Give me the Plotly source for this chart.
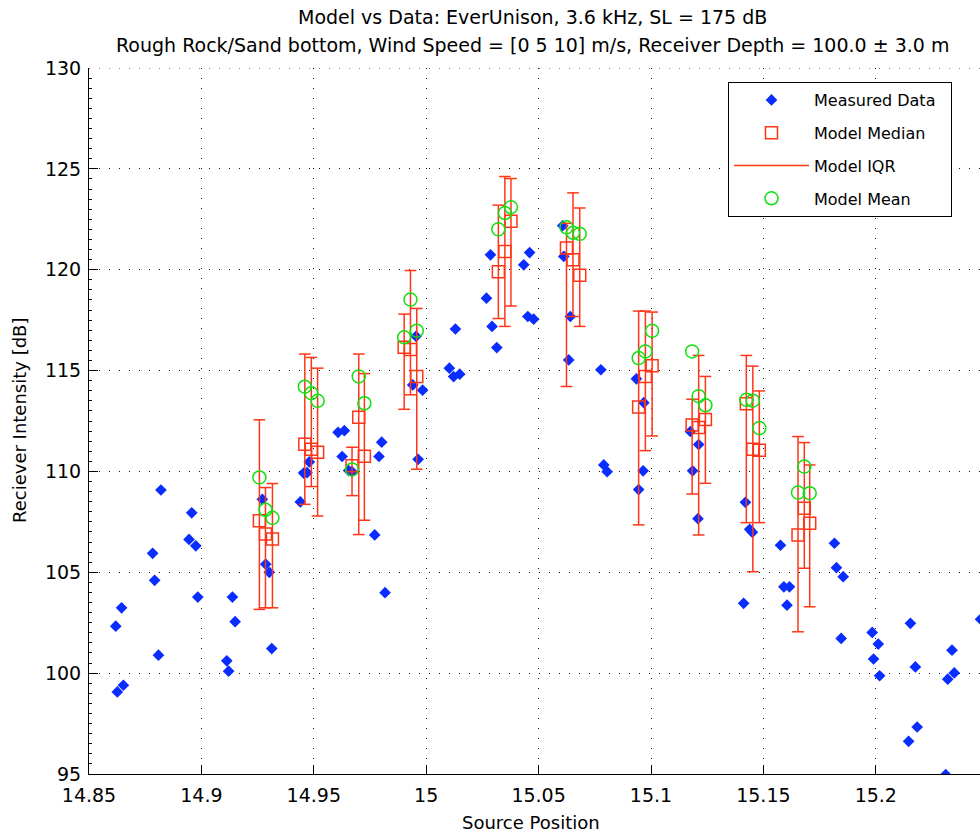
import plotly.graph_objects as go

# ---------------- data ----------------
meas_x = [14.8619, 14.8626, 14.8645, 14.8653, 14.8783, 14.8792, 14.8809, 14.8820,
          14.8945, 14.8957, 14.8975, 14.8984, 14.9113, 14.9121, 14.9138, 14.9150,
          14.9271, 14.9286, 14.9302, 14.9313, 14.9440, 14.9455, 14.9470, 14.9480,
          14.9608, 14.9636, 14.9626, 14.9655, 14.9670, 14.9771, 14.9790, 14.9802,
          14.9817, 14.9940, 14.9955, 14.9964, 14.9984, 15.0103, 15.0122, 15.0130,
          15.0149, 15.0268, 15.0286, 15.0293, 15.0314, 15.0434, 15.0452, 15.0460,
          15.0478, 15.0607, 15.0612, 15.0634, 15.0641, 15.0777, 15.0790, 15.0805,
          15.0935, 15.0945, 15.0965, 15.0968, 15.1175, 15.1185, 15.1209, 15.1212,
          15.1412, 15.1420, 15.1439, 15.1451, 15.1576, 15.1591, 15.1605, 15.1616,
          15.1816, 15.1825, 15.1846, 15.1855, 15.1984, 15.1990, 15.2011, 15.2017,
          15.2146, 15.2154, 15.2176, 15.2184, 15.2311, 15.2320, 15.2339, 15.2349,
          15.2466]
meas_y = [102.33, 99.07, 103.24, 99.40, 105.94, 104.60, 100.89, 109.08,
          106.63, 107.95, 106.31, 103.77, 100.61, 100.10, 103.77, 102.55,
          108.62, 105.40, 105.00, 101.22, 108.49, 109.92, 109.94, 110.47,
          111.94, 112.02, 110.74, 110.04, 109.99, 106.85, 110.74, 111.45,
          103.99, 114.29, 116.70, 110.60, 114.03, 115.12, 114.70, 117.06,
          114.82, 118.59, 120.74, 117.19, 116.14, 120.24, 117.68, 120.85,
          117.55, 122.18, 120.66, 115.53, 117.68, 115.04, 110.32, 109.99,
          114.59, 109.10, 110.03, 113.41, 111.98, 110.03, 107.66, 111.33,
          103.46, 108.47, 107.13, 106.98, 106.34, 104.28, 103.37, 104.28,
          106.44, 105.23, 101.72, 104.78, 102.02, 100.70, 101.44, 99.87,
          96.62, 102.47, 100.31, 97.33, 94.97, 99.70, 101.14, 100.01,
          102.67]

model_x = [14.9258, 14.9285, 14.9316,
           14.9460, 14.9489, 14.9517,
           14.9670, 14.9700, 14.9725,
           14.9902, 14.9930, 14.9958,
           15.0321, 15.0350, 15.0377,
           15.0624, 15.0653, 15.0683,
           15.0945, 15.0975, 15.1005,
           15.1183, 15.1212, 15.1242,
           15.1424, 15.1453, 15.1482,
           15.1654, 15.1682, 15.1706]
model_median = [107.56, 106.90, 106.65,
                111.35, 111.10, 110.95,
                110.28, 112.68, 110.75,
                116.15, 116.05, 114.71,
                119.90, 120.90, 122.40,
                121.08, 120.50, 119.73,
                113.20, 114.70, 115.24,
                112.30, 112.18, 112.58,
                113.35, 111.10, 111.05,
                106.85, 108.17, 107.43]
model_q1 = [103.16, 103.24, 103.24,
            108.37, 109.25, 107.79,
            108.80, 106.87, 107.58,
            113.08, 113.80, 110.11,
            117.58, 117.19, 118.20,
            114.21, 117.68, 117.19,
            107.35, 111.03, 111.76,
            108.88, 106.85, 109.41,
            107.46, 105.03, 107.46,
            102.05, 105.20, 103.29]
model_q3 = [112.56, 109.20, 109.40,
            115.82, 115.65, 115.12,
            111.20, 115.82, 114.85,
            117.80, 119.96, 118.08,
            123.20, 124.62, 124.52,
            122.30, 123.81, 123.06,
            117.95, 117.95, 117.90,
            113.58, 115.75, 114.71,
            115.75, 115.22, 113.99,
            111.73, 111.43, 110.32]
model_mean = [109.70, 108.10, 107.70,
              114.20, 113.88, 113.50,
              110.10, 114.71, 113.38,
              116.65, 118.52, 116.98,
              122.00, 122.81, 123.10,
              122.10, 121.83, 121.78,
              115.62, 115.95, 116.97,
              115.95, 113.73, 113.28,
              113.55, 113.51, 112.15,
              108.95, 110.24, 108.92]

x_tickvals = [14.85, 14.9, 14.95, 15.0, 15.05, 15.1, 15.15, 15.2]
x_ticktext = ["14.85", "14.9", "14.95", "15", "15.05", "15.1", "15.15", "15.2"]
y_tickvals = [95, 100, 105, 110, 115, 120, 125, 130]

title_l1 = "Model vs Data: EverUnison, 3.6 kHz, SL = 175 dB"
title_l2 = "Rough Rock/Sand bottom, Wind Speed = [0 5 10] m/s, Receiver Depth = 100.0 \u00b1 3.0 m"
x_label = "Source Position"
y_label = "Reciever Intensity [dB]"

# ---------------- styling ----------------
BLUE = "#0a2dff"
RED = "#ff3516"
GREEN = "#10e010"
FONT = "DejaVu Sans"
CAP = 0.0026  # half cap width in x units
L, T, B = 89, 68, 59
PW, PH = 980 - L, 833 - T - B

# IQR segments built from the data
iqr_x, iqr_y = [], []
for xv, lo, hi in zip(model_x, model_q1, model_q3):
    iqr_x += [xv, xv, None, xv - CAP, xv + CAP, None, xv - CAP, xv + CAP, None]
    iqr_y += [lo, hi, None, lo, lo, None, hi, hi, None]

pad = "\u00a0" * 2
fig = go.Figure()
fig.add_trace(go.Scatter(
    x=meas_x, y=meas_y, mode="markers", name="Measured Data" + pad,
    legendgroup="a",
    marker=dict(symbol="diamond", size=9, color=BLUE, line=dict(width=0))))
fig.add_trace(go.Scatter(
    x=model_x, y=model_median, mode="markers", name="Model Median" + pad,
    legendgroup="b",
    marker=dict(symbol="square-open", size=12, color=RED, line=dict(width=1.5, color=RED))))
fig.add_trace(go.Scatter(
    x=iqr_x, y=iqr_y, mode="lines", name="Model IQR" + pad, legendgroup="c",
    line=dict(color=RED, width=1.5), connectgaps=False))
fig.add_trace(go.Scatter(
    x=model_x, y=model_mean, mode="markers", name="Model Mean" + pad,
    legendgroup="d",
    marker=dict(symbol="circle-open", size=13, color=GREEN, line=dict(width=1.5, color=GREEN))))

grid = dict(showgrid=True, gridcolor="#111111", gridwidth=1, griddash="1px,9px")

# top dotted grid line at the highest y tick (plotly hides edge grid lines)
fig.add_shape(type="line", xref="paper", yref="y", x0=0, x1=1,
              y0=max(y_tickvals), y1=max(y_tickvals),
              line=dict(color="#111111", width=1, dash="1px,9px"), layer="below")

fig.add_annotation(text=title_l1, xref="paper", yref="paper",
                   x=(532 - L) / PW, y=1 + (T - 17) / PH, xanchor="center", yanchor="middle",
                   showarrow=False, font=dict(family=FONT, size=19, color="black"))
fig.add_annotation(text=title_l2, xref="paper", yref="paper",
                   x=(532 - L) / PW, y=1 + (T - 45) / PH, xanchor="center", yanchor="middle",
                   showarrow=False, font=dict(family=FONT, size=19, color="black"))
fig.add_annotation(text=x_label, xref="paper", yref="paper",
                   x=(531 - L) / PW, y=-(822 - (T + PH)) / PH, xanchor="center", yanchor="middle",
                   showarrow=False, font=dict(family=FONT, size=18, color="black"))
fig.add_annotation(text=y_label, xref="paper", yref="paper", textangle=-90,
                   x=-(L - 19) / PW, y=0.5, xanchor="center", yanchor="middle",
                   showarrow=False, font=dict(family=FONT, size=18, color="black"))

fig.update_layout(
    width=980, height=833,
    margin=dict(l=L, r=0, t=T, b=B, autoexpand=False),
    paper_bgcolor="white", plot_bgcolor="white",
    font=dict(family=FONT, size=18, color="black"),
    showlegend=True,
    legend=dict(x=(728 - L) / PW, y=1 - (82 - T) / PH, xanchor="left", yanchor="top",
                bgcolor="white", bordercolor="black", borderwidth=1,
                font=dict(family=FONT, size=16, color="black"),
                traceorder="grouped", tracegroupgap=9, itemwidth=75),
    xaxis=dict(range=[14.85, 14.85 + PW / 2248], tickvals=x_tickvals, ticktext=x_ticktext,
               ticks="inside", ticklen=9, tickcolor="black", tickwidth=1,
               showline=True, linecolor="black", linewidth=1, mirror=False,
               zeroline=False, tickfont=dict(family=FONT, size=19),
               ticklabelstandoff=4, automargin=False,
               **grid),
    yaxis=dict(range=[95, 130], tickvals=y_tickvals,
               ticks="inside", ticklen=9, tickcolor="black", tickwidth=1,
               minor=dict(dtick=0.5, tick0=95, ticks="inside", ticklen=3,
                          tickcolor="black", showgrid=False),
               showline=True, linecolor="black", linewidth=1, mirror=False,
               zeroline=False, tickfont=dict(family=FONT, size=19),
               ticklabelstandoff=3, automargin=False,
               **grid),
)

fig.write_html("out.html",
               config={"displayModeBar": False},
               post_script="document.body.style.margin='0px';document.body.style.overflow='hidden';")
